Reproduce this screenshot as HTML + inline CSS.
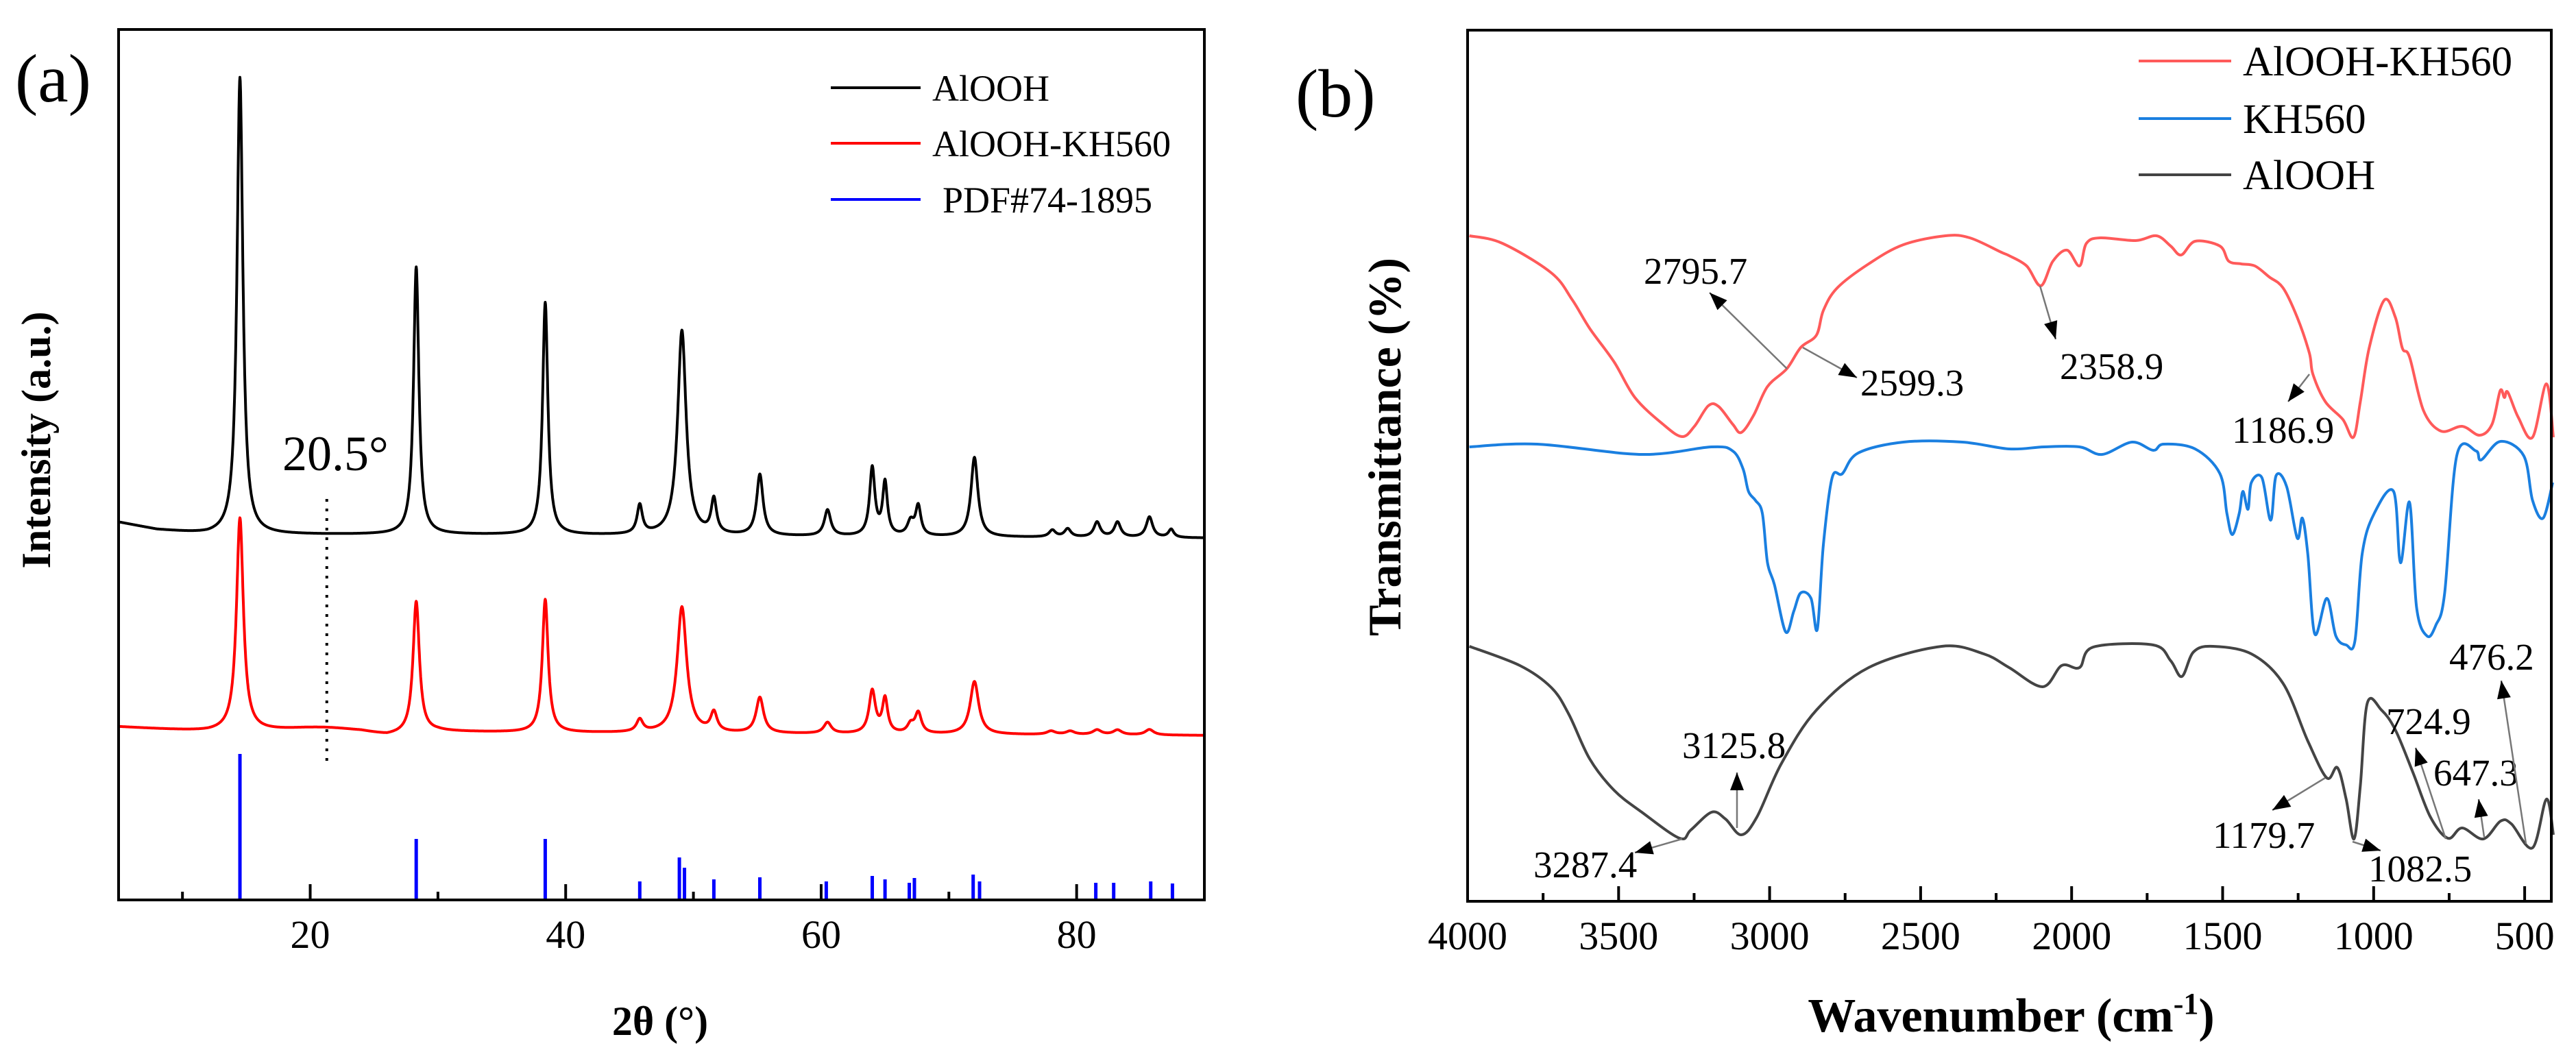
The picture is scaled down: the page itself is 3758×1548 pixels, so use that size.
<!DOCTYPE html>
<html><head><meta charset="utf-8">
<style>
html,body{margin:0;padding:0;background:#fff;}
svg{display:block;}
text{font-family:"Liberation Serif",serif;fill:#000;}
</style></head>
<body>
<svg id="fig" width="3758" height="1548" viewBox="0 0 3758 1548" xmlns="http://www.w3.org/2000/svg" font-family="Liberation Serif, serif">
<g id="pa"></g>
<g id="pb"></g>
</svg>
<script>
// ---------- Panel (a) XRD data ----------
const xrdTicks = [10,20,30,40,50,60,70,80,90];
const xrdTickLabels = [20,40,60,80];
const blackPeakPos = [14.5,28.3,38.4,45.8,49.1,51.6,55.2,60.5,64.0,65.0,67.0,67.6,72.0,78.1,79.3,81.6,83.2,85.7,87.4];
const blackPeakHt  = [667,390,339,42,299,50,89,38,99,77,20,43,116,10,12,22,22,30,12];
const blackPeakW   = [0.55,0.5,0.5,0.5,0.8,0.5,0.6,0.6,0.5,0.45,0.6,0.5,0.65,0.6,0.6,0.6,0.6,0.6,0.5];
const blackBaseX = [5,8,12,30,60,90];
const blackBaseY = [551,540,533,533,530,528];
const redPeakPos = [14.5,21.0,28.3,38.4,45.8,49.1,51.6,55.2,60.5,64.0,65.0,67.0,67.6,72.0,78.0,79.5,81.6,83.2,85.7];
const redPeakHt  = [311,10,192,194,18,184,28,52,16,62,50,12,30,77,5,5,7,7,8];
const redPeakW   = [0.65,9,0.6,0.55,0.6,0.9,0.6,0.7,0.7,0.6,0.5,0.6,0.6,0.8,0.8,0.8,0.8,0.8,0.8];
const redBaseX = [5,12,18,24,26,30,60,90];
const redBaseY = [252,244,242,240,236,244,242,240];
const stickPos = [14.5,28.3,38.4,45.8,48.9,49.3,51.6,55.2,60.4,64.0,65.0,66.9,67.3,71.9,72.4,81.5,82.9,85.8,87.5];
const stickHt  = [213,89,89,27,62,47,30,33,27,35,30,25,32,37,27,25,25,27,24];
const markerX = [21.3];

// ---------- Panel (b) FTIR data ----------
const irTicks = [4000,3750,3500,3250,3000,2750,2500,2250,2000,1750,1500,1250,1000,750,500];
const irTickLabels = [4000,3500,3000,2500,2000,1500,1000,500];
const redWn = [3994,3885,3723,3654,3596,3515,3446,3353,3290,3249,3203,3169,3122,3094,3053,3007,2943,2897,2845,2822,2776,2672,2557,2418,2337,2233,2207,2149,2102,2062,2015,1974,1951,1905,1788,1719,1672,1637,1591,1509,1480,1439,1393,1346,1300,1253,1213,1201,1160,1102,1067,1044,1015,965,928,905,881,835,777,707,649,608,581,567,556,521,474,428,405];
const redT  = [971,960,917,878,836,787,735,696,678,693,723,722,696,684,709,751,777,808,826,862,895,930,958,971,968,947,942,927,898,934,950,927,960,968,964,971,956,943,963,956,934,930,927,911,895,852,800,769,729,703,677,729,807,877,852,807,794,716,686,693,680,696,745,735,743,706,677,755,677];
const blueWn = [3994,3769,3423,3192,3122,3088,3070,3047,3024,3007,2984,2947,2920,2897,2863,2842,2822,2793,2759,2707,2557,2362,2207,2091,1974,1899,1800,1730,1695,1591,1509,1486,1468,1445,1433,1416,1405,1370,1341,1323,1288,1253,1236,1218,1195,1155,1125,1091,1062,1038,998,934,911,881,858,823,794,765,725,661,644,580,503,474,439,407];
const blueT  = [663,667,652,663,657,631,598,585,566,494,462,393,423,450,442,397,520,618,624,654,670,670,660,663,663,652,670,658,667,660,624,566,535,566,598,572,611,618,556,621,605,530,559,507,390,442,387,374,380,507,566,598,494,582,429,387,403,449,650,657,644,671,650,585,559,611];
const grayWn = [3994,3827,3723,3665,3596,3515,3423,3298,3261,3192,3146,3094,3042,2961,2845,2672,2430,2291,2207,2096,2033,1974,1928,1730,1672,1635,1596,1532,1405,1300,1218,1155,1120,1091,1065,1044,1021,974,928,870,812,754,707,637,580,544,474,428,405];
const grayT  = [372,344,312,273,208,162,130,92,104,130,120,97,123,201,279,341,372,361,341,313,344,341,371,374,351,328,364,372,361,318,234,180,195,149,91,169,289,279,250,188,123,92,107,91,117,113,78,149,97];
const annLabels = ["2795.7","2599.3","2358.9","1186.9","3125.8","3287.4","1179.7","1082.5","724.9","647.3","476.2"];

// ---------- helpers ----------
const NS = "http://www.w3.org/2000/svg";
const FF = "Liberation Serif, serif";
function mk(parent, tag, attrs, txt){
  const e = document.createElementNS(NS, tag);
  for (const k in attrs) e.setAttribute(k, attrs[k]);
  if (tag === "text") e.setAttribute("font-family", FF);
  if (txt !== undefined) e.textContent = txt;
  parent.appendChild(e);
  return e;
}
function interp(xs, ys, x){
  if (x <= xs[0]) return ys[0];
  for (let i=1;i<xs.length;i++){ if (x <= xs[i]){ const t=(x-xs[i-1])/(xs[i]-xs[i-1]); return ys[i-1]+t*(ys[i]-ys[i-1]); } }
  return ys[ys.length-1];
}
function smoothPath(pts){
  let d = "M"+pts[0][0].toFixed(1)+","+pts[0][1].toFixed(1);
  for (let i=0;i<pts.length-1;i++){
    const p0=pts[Math.max(0,i-1)], p1=pts[i], p2=pts[i+1], p3=pts[Math.min(pts.length-1,i+2)];
    const c1=[p1[0]+(p2[0]-p0[0])/6, p1[1]+(p2[1]-p0[1])/6];
    const c2=[p2[0]-(p3[0]-p1[0])/6, p2[1]-(p3[1]-p1[1])/6];
    d += "C"+c1[0].toFixed(1)+","+c1[1].toFixed(1)+" "+c2[0].toFixed(1)+","+c2[1].toFixed(1)+" "+p2[0].toFixed(1)+","+p2[1].toFixed(1);
  }
  return d;
}

// ---------- Panel (a) ----------
const pa = document.getElementById("pa");
const A = {l:173, r:1757, t:43, b:1313, x0:5, x1:90};
function xA(d){ return A.l + (d-A.x0)*(A.r-A.l)/(A.x1-A.x0); }
function yA(v){ return A.b - v; }
function xrdProfile(pos, ht, w, bx, by){
  const pts=[];
  for (let x=A.x0; x<=A.x1+1e-9; x+=0.025){
    let v = interp(bx, by, x);
    for (let i=0;i<pos.length;i++){ const u=(x-pos[i])/(w[i]/2); v += ht[i]/(1+u*u); }
    pts.push(xA(x).toFixed(1)+","+yA(v).toFixed(1));
  }
  return pts.join(" ");
}
let el;
el = mk(pa,"polyline",{points:xrdProfile(redPeakPos,redPeakHt,redPeakW,redBaseX,redBaseY),fill:"none",stroke:"#ff0000","stroke-width":4,"stroke-linejoin":"round"});


el = mk(pa,"polyline",{points:xrdProfile(blackPeakPos,blackPeakHt,blackPeakW,blackBaseX,blackBaseY),fill:"none",stroke:"#000","stroke-width":4,"stroke-linejoin":"round"});


for (let i=0;i<stickPos.length;i++){
  el = mk(pa,"line",{x1:xA(stickPos[i]),x2:xA(stickPos[i]),y1:yA(0),y2:yA(stickHt[i]),stroke:"#0000ff","stroke-width":5});
  
  
}
el = mk(pa,"line",{x1:xA(markerX[0]),x2:xA(markerX[0]),y1:728,y2:1115,stroke:"#000","stroke-width":4,"stroke-dasharray":"4,10"});


el = mk(pa,"text",{x:412,y:686,"font-size":72},"20.5°");


for (const t of xrdTicks){
  el = mk(pa,"line",{x1:xA(t),x2:xA(t),y1:A.b,y2:A.b-(t%20===0?23:12),stroke:"#000","stroke-width":4});
  
  
}
for (const t of xrdTickLabels){
  el = mk(pa,"text",{x:xA(t),y:1383,"font-size":58,"text-anchor":"middle"},String(t));
  
  
}
el = mk(pa,"rect",{x:A.l,y:A.t,width:A.r-A.l,height:A.b-A.t,fill:"none",stroke:"#000","stroke-width":4});


el = mk(pa,"text",{x:963,y:1510,"font-size":60,"font-weight":"bold","text-anchor":"middle"},"2θ (°)");


el = mk(pa,"text",{x:0,y:0,"font-size":60,"font-weight":"bold","text-anchor":"middle",transform:"translate(73,642) rotate(-90)"},"Intensity (a.u.)");


el = mk(pa,"text",{x:22,y:148,"font-size":100},"(a)");


const legA = [["AlOOH","#000",128],["AlOOH-KH560","#ff0000",209],["PDF#74-1895","#0000ff",291]];
for (const [name,col,y] of legA){
  el = mk(pa,"line",{x1:1212,x2:1343,y1:y,y2:y,stroke:col,"stroke-width":4});
  
  
  el = mk(pa,"text",{x:name==="PDF#74-1895"?1375:1360,y:y+19,"font-size":54},name);
  
  
}

// ---------- Panel (b) ----------
const pb = document.getElementById("pb");
const B = {l:2141, r:3722, t:44, b:1315, x0:4000, k:0.4406};
function xB(w){ return B.l + (B.x0-w)*B.k; }
function yB(v){ return B.b - v; }
function irPath(wn, t){ return smoothPath(wn.map((w,i)=>[xB(w), yB(t[i])])); }
const irSeries = [[redWn,redT,"#ff5a5a","alooh-kh560-ir-curve"],[blueWn,blueT,"#1a7fe0","kh560-ir-curve"],[grayWn,grayT,"#444444","alooh-ir-curve"]];
for (const [wn,t,col,nm] of irSeries){
  el = mk(pb,"path",{d:irPath(wn,t),fill:"none",stroke:col,"stroke-width":4,"stroke-linejoin":"round"});
  
  
}
const annGeom = [[0,2398,414,2607,538,2494,427],[1,2714,577,2630,507,2709,551],[2,3005,553,2976,417,2999,495],[3,3256,646,3369,546,3338,586],[4,2454,1106,2534,1208,2534,1127],[5,2237,1280,2454,1224,2385,1244],[6,3228,1237,3392,1135,3315,1182],[7,3455,1286,3432,1228,3473,1241],[8,3481,1071,3568,1224,3524,1091],[9,3550,1146,3624,1221,3616,1166],[10,3573,977,3685,1231,3649,993]];
for (const g of annGeom){
  const [i,tx,ty,x1,y1,x2,y2] = g;
  el = mk(pb,"line",{x1:x1,y1:y1,x2:x2,y2:y2,stroke:"#777","stroke-width":2.5});
  
  
  const ang = Math.atan2(y2-y1,x2-x1), L=26, W=10;
  const bx = x2-L*Math.cos(ang), by = y2-L*Math.sin(ang);
  const p = [[x2,y2],[bx+W*Math.sin(ang),by-W*Math.cos(ang)],[bx-W*Math.sin(ang),by+W*Math.cos(ang)]];
  el = mk(pb,"polygon",{points:p.map(q=>q[0].toFixed(1)+","+q[1].toFixed(1)).join(" "),fill:"#000"});
  
  
  el = mk(pb,"text",{x:tx,y:ty,"font-size":55},annLabels[i]);
  
  
}
for (const t of irTicks){
  el = mk(pb,"line",{x1:xB(t),x2:xB(t),y1:B.b,y2:B.b-(t%500===0?22:12),stroke:"#000","stroke-width":4});
  
  
}
for (const t of irTickLabels){
  el = mk(pb,"text",{x:xB(t),y:1385,"font-size":58,"text-anchor":"middle"},String(t));
  
  
}
el = mk(pb,"rect",{x:B.l,y:B.t,width:B.r-B.l,height:B.b-B.t,fill:"none",stroke:"#000","stroke-width":4});


el = mk(pb,"text",{x:2934,y:1505,"font-size":70,"font-weight":"bold","text-anchor":"middle"});


mk(el,"tspan",{},"Wavenumber (cm");
mk(el,"tspan",{dy:-26,"font-size":44},"-1");
mk(el,"tspan",{dy:26},")");
el = mk(pb,"text",{x:0,y:0,"font-size":68,"font-weight":"bold","text-anchor":"middle",transform:"translate(2043,652) rotate(-90)"},"Transmittance (%)");


el = mk(pb,"text",{x:1890,y:170,"font-size":100},"(b)");


const legB = [["AlOOH-KH560","#ff5a5a",89],["KH560","#1a7fe0",173],["AlOOH","#444444",255]];
for (const [name,col,y] of legB){
  el = mk(pb,"line",{x1:3120,x2:3255,y1:y,y2:y,stroke:col,"stroke-width":4});
  
  
  el = mk(pb,"text",{x:3272,y:y+21,"font-size":61},name);
  
  
}
</script>
</body></html>
